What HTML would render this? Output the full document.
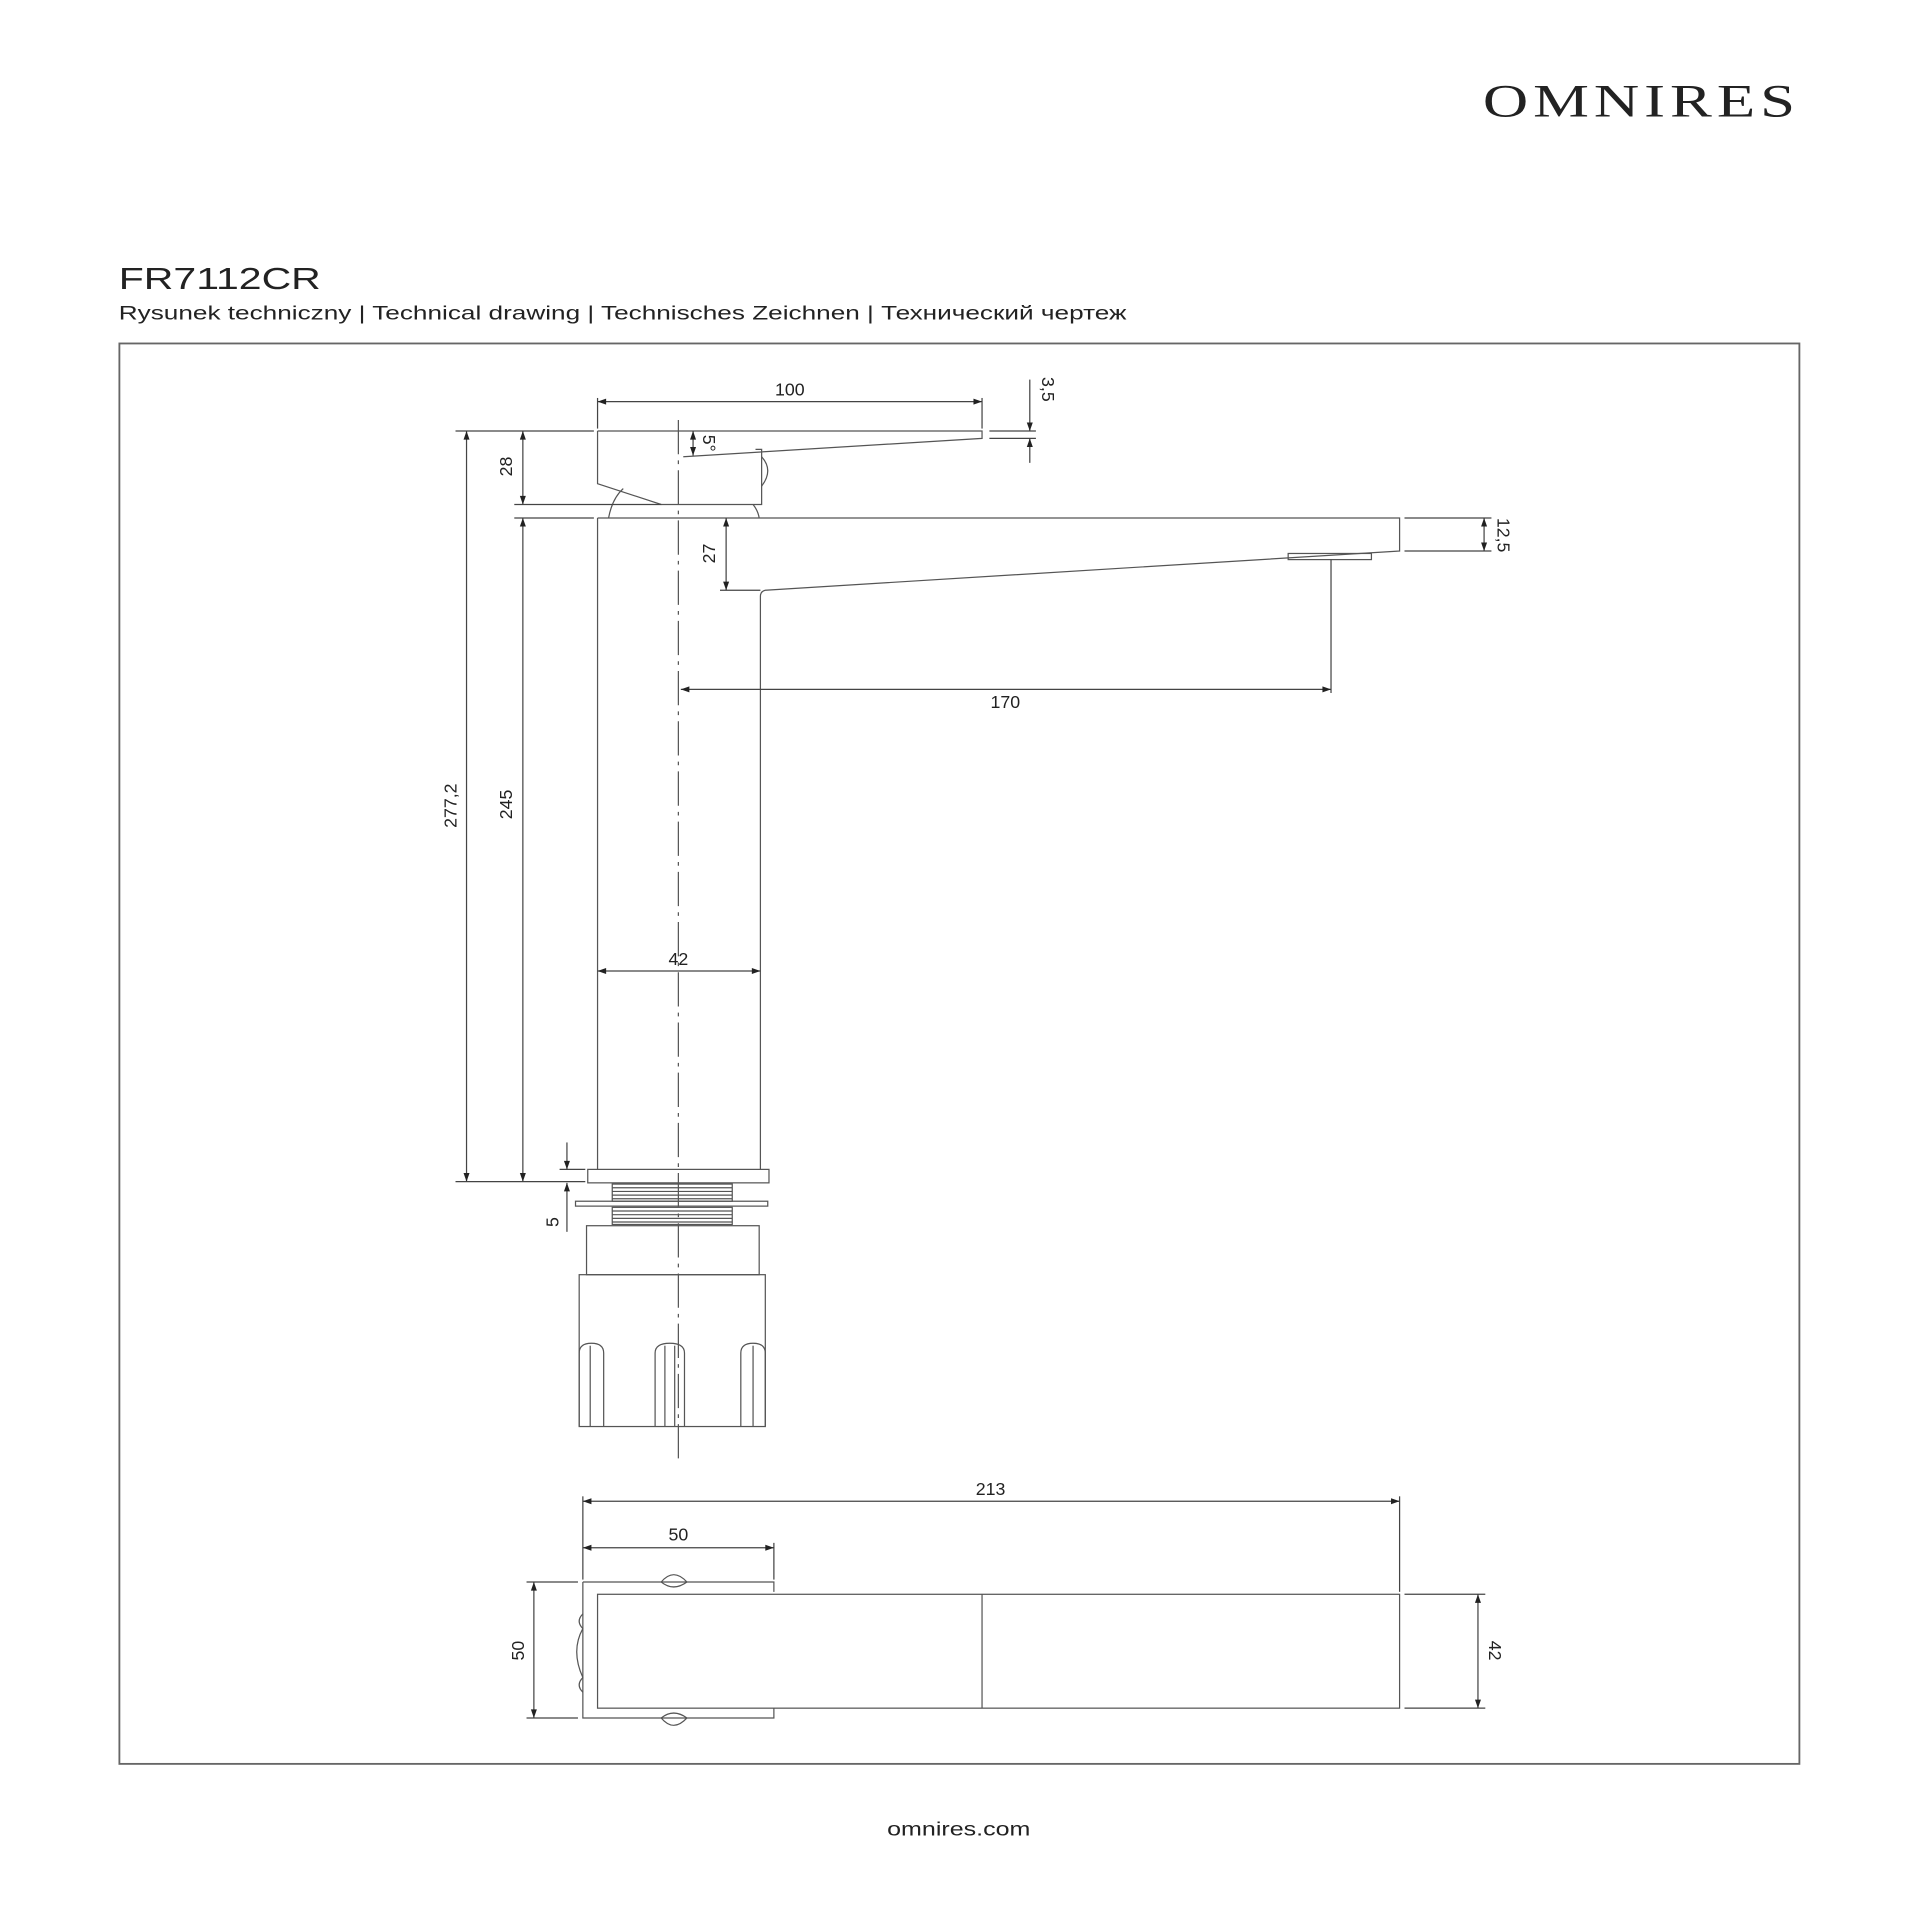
<!DOCTYPE html>
<html><head><meta charset="utf-8"><style>
html,body{margin:0;padding:0;background:#fff;}
svg{display:block;}
text{font-family:"Liberation Sans","DejaVu Sans",sans-serif;fill:#222;}
</style></head><body>
<svg width="1920" height="1920" viewBox="0 0 1568 1568" xmlns="http://www.w3.org/2000/svg">
<defs>
<marker id="a" viewBox="0 0 10 10" refX="10" refY="5" markerWidth="9" markerHeight="7" orient="auto-start-reverse" markerUnits="userSpaceOnUse"><path d="M0,1.5 L10,5 L0,8.5 z" fill="#222"/></marker>
</defs>
<text x="1211" y="95" style="font-family:'Liberation Serif',serif" font-size="38" textLength="259" lengthAdjust="spacingAndGlyphs" letter-spacing="3" fill="#222">OMNIRES</text>
<text x="97" y="236" font-size="25" textLength="165" lengthAdjust="spacingAndGlyphs" fill="#222">FR7112CR</text>
<text x="97" y="261" font-size="16" textLength="823" lengthAdjust="spacingAndGlyphs" fill="#222">Rysunek techniczny | Technical drawing | Technisches Zeichnen | Технический чертеж</text>
<rect x="97.5" y="280.5" width="1372" height="1160" fill="none" stroke="#666" stroke-width="1.5"/>
<text x="783" y="1499" text-anchor="middle" font-size="15.5" textLength="117" lengthAdjust="spacingAndGlyphs">omnires.com</text>

<g fill="none" stroke="#555" stroke-width="1">
<line x1="554" y1="343" x2="554" y2="1192" stroke-dasharray="28,5,3,5"/>
<path d="M488,352 H802 V358 L558,373"/>
<path d="M488,352 V395 L540,412 H622 V367 L617,367"/>
<path d="M622,373 Q632,384 622,397"/>
<path d="M497,423 Q500,407 509,399"/>
<path d="M615,412 Q619,417 620,423"/>
<path d="M488,423 H1143 V450 L625,482 Q621,483 621,487 V955"/>
<line x1="488" y1="423" x2="488" y2="955"/>
<rect x="1052" y="452" width="68" height="5"/>
<rect x="480" y="955" width="148" height="11"/>
<rect x="500" y="967" width="98" height="14"/>
<path d="M500,970 H598 M500,973 H598 M500,976 H598 M500,979 H598"/>
<rect x="470" y="981" width="157" height="4"/>
<rect x="500" y="986" width="98" height="14"/>
<path d="M500,989 H598 M500,992 H598 M500,995 H598 M500,998 H598"/>
<rect x="479" y="1001" width="141" height="40"/>
<rect x="473" y="1041" width="152" height="124"/>
<path d="M473,1165 V1105 Q473,1097 483,1097 Q493,1097 493,1105 V1165"/>
<line x1="482" y1="1099" x2="482" y2="1165"/>
<path d="M535,1165 V1105 Q535,1097 547,1097 Q559,1097 559,1105 V1165"/>
<line x1="543" y1="1099" x2="543" y2="1165"/><line x1="551" y1="1099" x2="551" y2="1165"/>
<path d="M605,1165 V1105 Q605,1097 615,1097 Q625,1097 625,1105 V1165"/>
<line x1="615" y1="1099" x2="615" y2="1165"/>
</g>

<g fill="none" stroke="#444" stroke-width="1">
<line x1="488" y1="325" x2="488" y2="350"/><line x1="802" y1="325" x2="802" y2="350"/>
<line x1="488" y1="328" x2="802" y2="328" marker-start="url(#a)" marker-end="url(#a)"/>
<line x1="808" y1="352" x2="846" y2="352"/><line x1="808" y1="358" x2="846" y2="358"/>
<line x1="841" y1="310" x2="841" y2="352" marker-end="url(#a)"/>
<line x1="841" y1="378" x2="841" y2="358" marker-end="url(#a)"/>
<line x1="566" y1="352" x2="566" y2="372" marker-start="url(#a)" marker-end="url(#a)"/>
<line x1="372" y1="352" x2="485" y2="352"/>
<line x1="372" y1="965" x2="478" y2="965"/>
<line x1="381" y1="352" x2="381" y2="965" marker-start="url(#a)" marker-end="url(#a)"/>
<line x1="420" y1="412" x2="540" y2="412"/>
<line x1="420" y1="423" x2="485" y2="423"/>
<line x1="427" y1="352" x2="427" y2="412" marker-start="url(#a)" marker-end="url(#a)"/>
<line x1="427" y1="423" x2="427" y2="965" marker-start="url(#a)" marker-end="url(#a)"/>
<line x1="588" y1="482" x2="621" y2="482"/>
<line x1="593" y1="423" x2="593" y2="482" marker-start="url(#a)" marker-end="url(#a)"/>
<line x1="1147" y1="423" x2="1218" y2="423"/><line x1="1147" y1="450" x2="1218" y2="450"/>
<line x1="1212" y1="423" x2="1212" y2="450" marker-start="url(#a)" marker-end="url(#a)"/>
<line x1="1087" y1="457" x2="1087" y2="566"/>
<line x1="556" y1="563" x2="1087" y2="563" marker-start="url(#a)" marker-end="url(#a)"/>
<line x1="488" y1="793" x2="621" y2="793" marker-start="url(#a)" marker-end="url(#a)"/>
<line x1="457" y1="955" x2="478" y2="955"/>
<line x1="463" y1="933" x2="463" y2="955" marker-end="url(#a)"/>
<line x1="463" y1="1006" x2="463" y2="966" marker-end="url(#a)"/>
</g>
<g font-size="14.5">
<text x="645" y="323" text-anchor="middle">100</text>
<text x="821" y="578" text-anchor="middle">170</text>
<text x="554" y="788" text-anchor="middle">42</text>
<text transform="translate(373,658) rotate(-90)" text-anchor="middle">277,2</text>
<text transform="translate(418,381) rotate(-90)" text-anchor="middle">28</text>
<text transform="translate(418,657) rotate(-90)" text-anchor="middle">245</text>
<text transform="translate(584,452) rotate(-90)" text-anchor="middle">27</text>
<text transform="translate(456,998) rotate(-90)" text-anchor="middle">5</text>
<text transform="translate(851,318) rotate(90)" text-anchor="middle">3,5</text>
<text transform="translate(1223,437) rotate(90)" text-anchor="middle">12,5</text>
<text transform="translate(574,362) rotate(90)" text-anchor="middle">5°</text>
</g>

<g fill="none" stroke="#555" stroke-width="1">
<path d="M476,1292 H632 V1300"/>
<path d="M476,1292 V1403 H632 V1395"/>
<rect x="488" y="1302" width="655" height="93"/>
<line x1="802" y1="1302" x2="802" y2="1395"/>
<path d="M540,1292 Q550,1280 561,1292 M540,1292 Q550,1300 561,1292"/>
<path d="M540,1403 Q550,1415 561,1403 M540,1403 Q550,1395 561,1403"/>
<path d="M476,1318 Q470,1324 476,1330 Q466,1348 476,1370 Q470,1376 476,1382"/>
</g>
<g fill="none" stroke="#444" stroke-width="1">
<line x1="476" y1="1222" x2="476" y2="1290"/>
<line x1="1143" y1="1222" x2="1143" y2="1300"/>
<line x1="632" y1="1260" x2="632" y2="1290"/>
<line x1="476" y1="1226" x2="1143" y2="1226" marker-start="url(#a)" marker-end="url(#a)"/>
<line x1="476" y1="1264" x2="632" y2="1264" marker-start="url(#a)" marker-end="url(#a)"/>
<line x1="430" y1="1292" x2="472" y2="1292"/><line x1="430" y1="1403" x2="472" y2="1403"/>
<line x1="436" y1="1292" x2="436" y2="1403" marker-start="url(#a)" marker-end="url(#a)"/>
<line x1="1147" y1="1302" x2="1213" y2="1302"/><line x1="1147" y1="1395" x2="1213" y2="1395"/>
<line x1="1207" y1="1302" x2="1207" y2="1395" marker-start="url(#a)" marker-end="url(#a)"/>
</g>
<g font-size="14.5">
<text x="809" y="1221" text-anchor="middle">213</text>
<text x="554" y="1258" text-anchor="middle">50</text>
<text transform="translate(428,1348) rotate(-90)" text-anchor="middle">50</text>
<text transform="translate(1216,1348) rotate(90)" text-anchor="middle">42</text>
</g>
</svg>
</body></html>
